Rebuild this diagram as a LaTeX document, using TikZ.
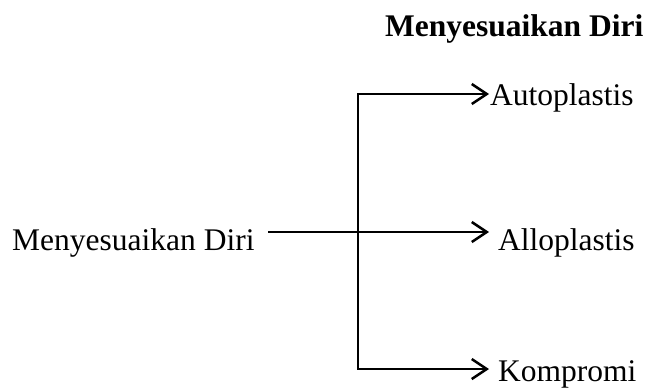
\documentclass[tikz,border=0pt]{standalone}
\usepackage{fontspec}
\setmainfont{Liberation Serif}
\usetikzlibrary{arrows.meta}
\begin{document}
\begin{tikzpicture}[x=1pt,y=-1pt,
  label/.style={anchor=base west,inner sep=0pt,font=\fontsize{31.5}{38}\selectfont},
  branch/.style={line width=2.5pt,-{Straight Barb[length=15pt,width=20pt,line width=2.5pt]}},
  stem/.style={line width=2.5pt}]
  \useasboundingbox (0,0) rectangle (648,388);
  % headings and labels
  \node[label,font=\fontsize{31.5}{38}\selectfont\bfseries] (title) at (385,36) {Menyesuaikan Diri};
  \node[label] (src) at (12,250) {Menyesuaikan Diri};
  \node[label] (auto) at (490,105) {Autoplastis};
  \node[label] (allo) at (498,250) {Alloplastis};
  \node[label] (komp) at (498,381) {Kompromi};
  % junction points on the vertical bar
  \coordinate (start) at (268,232);
  \coordinate (jtop) at (358,94);
  \coordinate (jbot) at (358,369);
  \coordinate (eA) at (489,94);
  \coordinate (eB) at (489,232);
  \coordinate (eC) at (489,369);
  % connectors
  \draw[stem,line cap=rect] (jtop) -- (jbot);
  \draw[branch] (jtop) -- (eA);
  \draw[branch] (start) -- (eB);
  \draw[branch] (jbot) -- (eC);
\end{tikzpicture}
\end{document}
